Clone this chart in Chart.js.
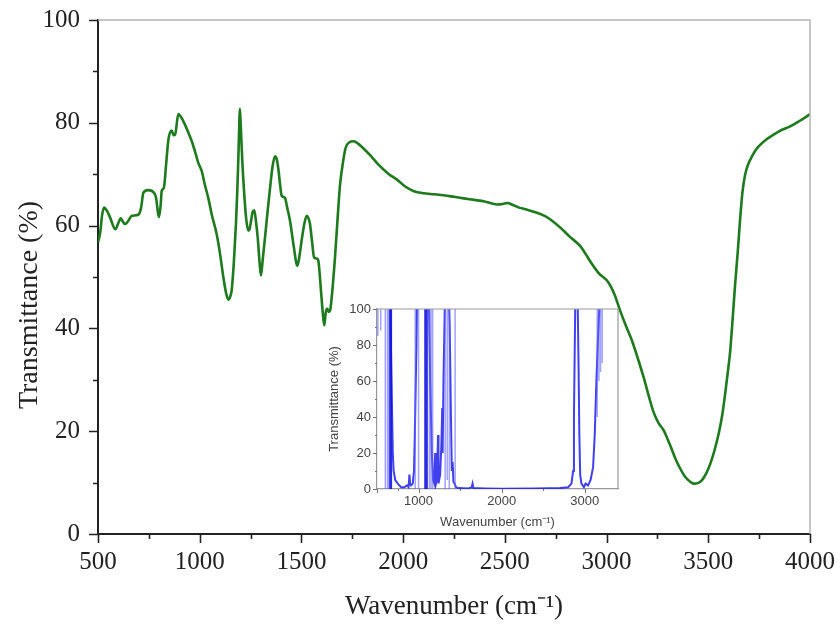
<!DOCTYPE html>
<html>
<head>
<meta charset="utf-8">
<script src="https://cdn.jsdelivr.net/npm/chart.js@4.4.1/dist/chart.umd.min.js"></script>
<style>
  body { margin: 0; background: #fff; }
  #wrap { position: relative; width: 840px; height: 630px; }
  #main { position: absolute; left: 0; top: 0; }
  #inset { position: absolute; left: 320px; top: 295px; }
</style>
</head>
<body>
<div id="wrap">
  <canvas id="main" width="840" height="630"></canvas>
  <canvas id="inset" width="320" height="240"></canvas>
</div>
<script>
// main FTIR spectrum (green)
var wavenumber = [500, 505, 512, 520, 530, 545, 560, 585, 600, 611, 622, 633, 650, 666, 698, 712, 723, 747, 775, 785,
  795, 800, 808, 813, 824, 835, 846, 862, 872, 879, 895, 910, 928, 945, 961, 980, 993, 1010, 1025, 1042,
  1060, 1083, 1100, 1116, 1130, 1141, 1150, 1157, 1168, 1178, 1185, 1190, 1194, 1197, 1200, 1203, 1210, 1218, 1228, 1239,
  1245, 1251, 1260, 1268, 1276, 1285, 1295, 1301, 1310, 1321, 1333, 1346, 1358, 1370, 1378, 1386, 1395, 1403, 1419, 1430,
  1444, 1462, 1480, 1490, 1501, 1515, 1526, 1534, 1542, 1552, 1562, 1575, 1583, 1590, 1596, 1605, 1612, 1620, 1627, 1634,
  1641, 1650, 1665, 1678, 1690, 1705, 1717, 1735, 1758, 1780, 1800, 1840, 1880, 1930, 1971, 2010, 2053, 2100, 2151, 2200,
  2250, 2298, 2350, 2400, 2462, 2490, 2511, 2540, 2570, 2609, 2650, 2700, 2724, 2773, 2820, 2871, 2900, 2920, 2960, 3010,
  3040, 3067, 3095, 3125, 3155, 3182, 3210, 3231, 3255, 3280, 3310, 3338, 3365, 3387, 3410, 3428, 3448, 3469, 3490, 3510,
  3530, 3551, 3568, 3583, 3596, 3608, 3620, 3632, 3645, 3657, 3668, 3681, 3697, 3714, 3735, 3755, 3790, 3821, 3860, 3903,
  3950, 3997, 4000];
var transmittance = [56.8, 57.5, 59, 62, 63.5, 62.8, 61.5, 59.3, 60.5, 61.4, 60.8, 60.3, 61, 61.9, 62.1, 63.5, 66.4, 66.9, 66.4, 65.5,
  62.5, 61.7, 64, 66.7, 67.4, 72, 76.7, 78.5, 77.6, 77.7, 81.7, 81, 79.6, 78, 76.4, 74, 72.2, 70.6, 68, 65.4,
  62, 58.4, 54.5, 50, 46.8, 45.6, 46.2, 47.4, 53, 60.3, 67, 73.2, 79, 82.7, 81, 78.3, 72, 66.7, 61.5, 59,
  59.3, 60.6, 62.6, 63, 61, 57.7, 52.5, 50.3, 53.5, 57.7, 62.5, 67.4, 71.5, 73.5, 73, 71.2, 68, 65.8, 65.4, 63.5,
  60.9, 56, 52.2, 54, 57.1, 60.5, 61.9, 61.5, 60.3, 57, 53.8, 53.6, 53.2, 50.5, 47.4, 43, 40.6, 43.2, 43.8, 43.2,
  43.5, 46.5, 53.8, 61.5, 68, 72.5, 75.1, 76.2, 76.4, 75.9, 75.2, 73.6, 71.8, 70, 68.9, 67.6, 66.7, 66.3, 66.1, 65.9,
  65.6, 65.3, 65, 64.7, 64.1, 64.2, 64.4, 64, 63.5, 63.1, 62.6, 61.8, 61.2, 59.6, 57.8, 56, 54.3, 53, 50.8, 48.9,
  46.5, 43.4, 40.5, 37.6, 34, 30.5, 26.5, 23.7, 21.6, 20.2, 17.5, 14.7, 12.5, 11.1, 10.2, 9.8, 9.9, 10.5, 11.8, 13.7,
  16.2, 19.5, 23, 27.3, 31.5, 35.7, 42, 48.6, 55, 61.5, 66.5, 69.9, 72, 73.4, 74.8, 75.7, 76.9, 77.7, 78.6, 79.3,
  80.4, 81.6, 81.7];

// inset spectrum (blue, saturated)
var insetWn = [620, 660, 675, 690, 700, 720, 750, 790, 830, 860, 880, 890, 898, 910, 930, 945, 955, 965, 975, 985,
  1120, 1140, 1160, 1175, 1190, 1200, 1205, 1220, 1235, 1240, 1260, 1275, 1285, 1290, 1300, 1315, 1330, 1360, 1375, 1390,
  1400, 1410, 1420, 1435, 1450, 1480, 1600, 1640, 1650, 1660, 1800, 2000, 2400, 2700, 2800, 2840, 2860, 2870, 2880, 2890,
  2910, 2925, 2935, 2945, 2960, 2990, 3010, 3040, 3070, 3100, 3120, 3140, 3160, 3175, 3190, 3220, 3400];
var insetT = [120, 100, 60, 20, 10, 5, 3, 1, 1, 2, 1, 8, 3, 2, 3, 10, 30, 55, 80, 120,
  120, 60, 20, 5, 3, 20, 2, 5, 30, 3, 8, 25, 45, 20, 60, 100, 120, 120, 90, 40,
  10, 15, 4, 3, 1, 0.5, 0.3, 1, 3, 0.5, 0.3, 0.2, 0.3, 0.5, 1, 3, 10, 40, 80, 120,
  120, 70, 30, 8, 3, 1, 3, 2, 5, 12, 30, 60, 85, 100, 110, 120, 120];
var darkSpikeWn = [655, 672, 1078, 1086, 1094, 1102];
var lightSpikeWn = [510, 545, 600, 626, 640, 960, 1000, 1130, 1150, 1170, 1320, 1345, 1370, 1440, 3150, 3170, 3190, 3210];
var lightSpikeLow = [85, 88, 0, 0, 0, 0, 0, 0, 0, 0, 0, 5, 0, 0, 40, 60, 65, 70];

var xTicks = [500, 1000, 1500, 2000, 2500, 3000, 3500, 4000];
var yTicks = [0, 20, 40, 60, 80, 100];
var insetXTicks = [1000, 2000, 3000];
var insetYTicks = [0, 20, 40, 60, 80, 100];

function pairs(xs, ys) {
  return xs.map(function (v, i) { return { x: v, y: ys[i] }; });
}
function spikes(xs, lows) {
  var out = [];
  xs.forEach(function (v, i) {
    out.push({ x: v, y: 100 }, { x: v, y: lows ? lows[i] : 0 }, { x: v, y: null });
  });
  return out;
}
function plain(v) { return String(v); }

// frame + major/minor tick marks
var frame = {
  id: 'frame',
  afterDraw: function (chart, args, o) {
    var ctx = chart.ctx, a = chart.chartArea, sx = chart.scales.x, sy = chart.scales.y;
    ctx.save();
    ctx.strokeStyle = o.boxColor;
    ctx.lineWidth = o.boxWidth;
    ctx.beginPath();
    ctx.moveTo(a.left, a.top); ctx.lineTo(a.right, a.top); ctx.lineTo(a.right, a.bottom);
    ctx.stroke();
    ctx.strokeStyle = o.tickColor;
    ctx.lineWidth = o.tickWidth;
    ctx.beginPath();
    function tx(v, len) { var p = Math.round(sx.getPixelForValue(v)) + 0.5; ctx.moveTo(p, a.bottom); ctx.lineTo(p, a.bottom + len); }
    function ty(v, len) { var p = Math.round(sy.getPixelForValue(v)) + 0.5; ctx.moveTo(a.left, p); ctx.lineTo(a.left - len, p); }
    o.xTicks.forEach(function (v, i) {
      tx(v, o.major);
      if (i < o.xTicks.length - 1) tx((v + o.xTicks[i + 1]) / 2, o.minor);
    });
    o.yTicks.forEach(function (v, i) {
      ty(v, o.major);
      if (i < o.yTicks.length - 1) ty((v + o.yTicks[i + 1]) / 2, o.minor);
    });
    ctx.stroke();
    ctx.restore();
  }
};

var serif = 'Liberation Serif, Times New Roman, serif';
var sans = 'Liberation Sans, Arial, sans-serif';

function fitX(h) {
  return function (s) { s.height = h; s.paddingLeft = 0; s.paddingRight = 0; };
}
function fitY(w) {
  return function (s) { s.width = w; s.paddingTop = 0; s.paddingBottom = 0; };
}

new Chart(document.getElementById('main'), {
  type: 'line',
  data: {
    datasets: [{
      data: pairs(wavenumber, transmittance),
      borderColor: '#1d7a1d',
      borderWidth: 2.6,
      pointRadius: 0,
      cubicInterpolationMode: 'monotone',
      fill: false
    }]
  },
  options: {
    responsive: false,
    animation: false,
    layout: { padding: { top: 20, right: 30, left: 0, bottom: 0 } },
    plugins: {
      legend: { display: false },
      tooltip: { enabled: false },
      frame: { boxColor: '#b4b4b4', boxWidth: 1.5, tickColor: '#222', tickWidth: 1.6, major: 9, minor: 5, xTicks: xTicks, yTicks: yTicks }
    },
    scales: {
      x: {
        type: 'linear', min: 500, max: 4000,
        afterBuildTicks: function (s) { s.ticks = xTicks.map(function (v) { return { value: v }; }); },
        afterFit: fitX(96),
        grid: { display: false, drawTicks: false },
        border: { display: true, color: '#222', width: 2 },
        ticks: { padding: 13, color: '#222', font: { family: serif, size: 25 }, maxRotation: 0, callback: plain },
        title: { display: true, text: 'Wavenumber (cm\u207B\u00B9)', color: '#222', font: { family: serif, size: 27 }, padding: { top: 0, bottom: 7 } }
      },
      y: {
        min: 0, max: 100,
        afterBuildTicks: function (s) { s.ticks = yTicks.map(function (v) { return { value: v }; }); },
        afterFit: fitY(98),
        grid: { display: false, drawTicks: false },
        border: { display: true, color: '#222', width: 2 },
        ticks: { padding: 18, color: '#222', font: { family: serif, size: 25 }, callback: plain },
        // trailing spaces push the visible title a little below the axis centre, as in the original
        title: { display: true, text: 'Transmittance (%)\u00A0\u00A0\u00A0\u00A0\u00A0\u00A0\u00A0\u00A0', color: '#222', font: { family: serif, size: 28 }, padding: { top: 13, bottom: 0 } }
      }
    }
  },
  plugins: [frame]
});

new Chart(document.getElementById('inset'), {
  type: 'line',
  data: {
    datasets: [{
      data: spikes(lightSpikeWn, lightSpikeLow),
      borderColor: 'rgba(100,100,255,0.6)',
      borderWidth: 1.5,
      pointRadius: 0,
      spanGaps: false
    }, {
      data: spikes(darkSpikeWn),
      borderColor: 'rgba(20,20,220,0.9)',
      borderWidth: 1.6,
      pointRadius: 0,
      spanGaps: false
    }, {
      data: pairs(insetWn, insetT),
      borderColor: 'rgba(30,30,235,0.85)',
      borderWidth: 2,
      pointRadius: 0,
      tension: 0
    }]
  },
  options: {
    responsive: false,
    animation: false,
    layout: { padding: { top: 14, right: 22, left: 0, bottom: 0 } },
    plugins: {
      legend: { display: false },
      tooltip: { enabled: false },
      frame: { boxColor: '#999', boxWidth: 1.2, tickColor: '#777', tickWidth: 1, major: 4, minor: 2, xTicks: [500].concat(insetXTicks), yTicks: insetYTicks }
    },
    scales: {
      x: {
        type: 'linear', min: 500, max: 3400,
        afterBuildTicks: function (s) { s.ticks = insetXTicks.map(function (v) { return { value: v }; }); },
        afterFit: fitX(46),
        grid: { display: false, drawTicks: false },
        border: { display: true, color: '#999', width: 1.2 },
        ticks: { padding: 5, color: '#444', font: { family: sans, size: 13 }, maxRotation: 0, callback: plain },
        title: { display: true, text: 'Wavenumber (cm\u207B\u00B9)', color: '#444', font: { family: sans, size: 13 }, padding: { top: 0, bottom: 5 } }
      },
      y: {
        min: 0, max: 100,
        afterBuildTicks: function (s) { s.ticks = insetYTicks.map(function (v) { return { value: v }; }); },
        afterFit: fitY(57),
        grid: { display: false, drawTicks: false },
        border: { display: true, color: '#999', width: 1.2 },
        ticks: { padding: 6, color: '#444', font: { family: sans, size: 13 }, callback: plain },
        title: { display: true, text: 'Transmittance (%)', color: '#444', font: { family: sans, size: 13 }, padding: { top: 7, bottom: 0 } }
      }
    }
  },
  plugins: [frame]
});
</script>
</body>
</html>
